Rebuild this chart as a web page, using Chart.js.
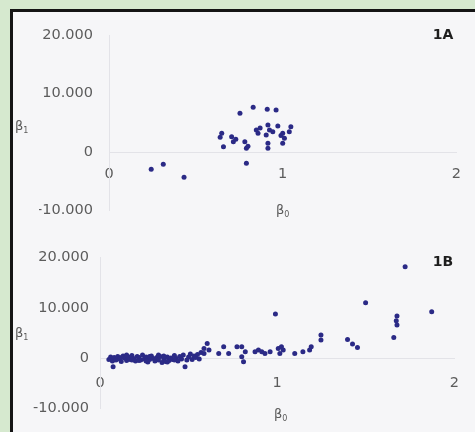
<!DOCTYPE html>
<html><head><meta charset="utf-8">
<script src="https://cdn.jsdelivr.net/npm/chart.js@4/dist/chart.umd.min.js"></script>
<style>
html,body{margin:0;padding:0;background:#d6e9cf;width:475px;height:432px;overflow:hidden}
#frame{position:absolute;left:10px;top:9px;width:470px;height:430px;border-left:3px solid #151515;border-top:3px solid #151515;background:#f6f6f8}
canvas{position:absolute;left:0}
#ca{top:0;width:475px;height:240px}
#cb{top:222px;width:475px;height:210px}
</style></head><body>
<div id="frame"></div>
<canvas id="ca" width="475" height="240"></canvas>
<canvas id="cb" width="475" height="210"></canvas>
<script>
// Panel 1A data (beta0, beta1)
const aBeta0 = [0.754,0.830,0.911,0.962,0.649,0.640,0.706,0.716,0.659,0.782,0.791,0.791,0.848,0.858,0.915,0.924,0.905,0.972,0.943,0.915,0.915,1.000,1.010,1.000,1.047,1.038,0.243,0.3125,0.432,0.870,0.990,0.730,0.800];
const aBeta1 = [6620,7640,7300,7180,3200,2510,2620,1760,910,1760,630,-1930,3760,3200,4620,3760,2910,4450,3470,1490,630,3200,2340,1490,4330,3470,-2960,-2100,-4330,4100,2800,2200,1000];
// Panel 1B data (beta0, beta1)
const bBeta0 = [0.05,0.06,0.07,0.074,0.08,0.09,0.10,0.11,0.12,0.13,0.14,0.15,0.16,0.17,0.18,0.19,0.20,0.21,0.22,0.23,0.24,0.25,0.26,0.27,0.28,0.29,0.30,0.31,0.32,0.33,0.34,0.35,0.36,0.37,0.38,0.39,0.40,0.41,0.42,0.43,0.44,0.45,0.46,0.47,0.48,0.49,0.50,0.51,0.52,0.53,0.54,0.55,0.56,0.57,
  0.12,0.18,0.22,0.28,0.33,0.38,0.42,0.36,0.15,0.26,
  0.587,0.587,0.605,0.615,0.67,0.698,0.726,0.773,0.80,0.82,0.80,0.81,0.875,0.894,0.913,0.931,0.96,0.99,1.006,1.024,1.034,1.015,1.099,1.145,1.183,1.192,1.247,1.247,1.397,1.425,1.453,1.499,1.658,1.672,1.676,1.676,1.722,1.872];
const bBeta1 = [-300,200,-600,-1730,100,-400,300,-200,-700,400,0,-500,200,-300,500,-100,-600,300,100,-400,600,-200,200,-800,-300,400,-100,-600,100,-400,300,-900,-200,-700,200,-500,0,-300,500,-100,-600,300,-200,600,-1730,-400,200,800,-300,400,100,700,-200,1100,
  100,-400,-500,300,600,-800,-400,400,600,-600,
  940,1930,2930,1590,940,2250,940,2250,2250,1250,260,-740,1250,1590,1250,940,1250,8760,1930,2250,1590,940,940,1250,1590,2250,4580,3590,3730,2790,2130,11020,4120,7430,8370,6570,18190,9220];
// Axis ticks
const xTickValues = [0,1,2];
const yTickValues = [-10000,0,10000,20000];
const panelTags = ['1A','1B'];

function fmt(v){
  const s = Math.abs(v).toString().replace(/\B(?=(\d{3})+(?!\d))/g,'.');
  return (v<0?'-':'')+s;
}
const FONT = 'DejaVu Sans';
const notes = {
  id:'notes',
  afterDraw(chart, args, o){
    const ctx = chart.ctx;
    ctx.save();
    ctx.fillStyle = '#1e1e1e';
    ctx.font = 'bold 14px "'+FONT+'"';
    ctx.textAlign='center'; ctx.textBaseline='middle';
    ctx.fillText(o.tag, o.tagX, o.tagY);
    ctx.fillStyle = '#5a5a5a';
    function beta(sub, x, y){
      ctx.textAlign='left'; ctx.textBaseline='middle';
      ctx.font = '13px "'+FONT+'"';
      ctx.fillText('β', x, y);
      const w = ctx.measureText('β').width;
      ctx.font = '8px "'+FONT+'"';
      ctx.fillText(sub, x + w, y + 4);
    }
    beta('1', o.b1X, o.b1Y);
    beta('0', o.b0X, o.b0Y);
    ctx.restore();
  }
};

function makeChart(id, xs, ys, cfg){
  const pts = xs.map((x,i)=>({x:x, y:ys[i]}));
  return new Chart(document.getElementById(id), {
    type:'scatter',
    data:{datasets:[{data:pts, pointRadius:2.5, pointHoverRadius:2.5, pointBackgroundColor:'#2b2a86', pointBorderWidth:0}]},
    options:{
      responsive:false, animation:false, events:[],
      layout:{padding:cfg.pad},
      plugins:{legend:{display:false}, tooltip:{enabled:false}, notes:cfg.notes},
      scales:{
        x:{type:'linear', min:0, max:2, position:{y:0},
          afterBuildTicks(s){ s.ticks = xTickValues.map(v=>({value:v})); },
          ticks:{padding:cfg.xPad, color:'#5c5c5c', font:{family:FONT, size:14.5}, callback:v=>String(v), maxRotation:0},
          grid:{display:false, drawTicks:false},
          border:{display:true, color:'#e3e3e8', width:1}},
        y:{type:'linear', min:-10000, max:20000,
          afterBuildTicks(s){ s.ticks = yTickValues.map(v=>({value:v})); },
          afterFit(s){ s.width = 70; },
          ticks:{padding:cfg.yPad, color:'#5c5c5c', font:{family:FONT, size:14.5}, callback:fmt},
          grid:{display:false, drawTicks:false},
          border:{display:true, color:'#e3e3e8', width:1}}
      }
    },
    plugins:[notes]
  });
}

makeChart('ca', aBeta0, aBeta1, {
  pad:{top:35, right:14, bottom:29.5, left:39}, xPad:14, yPad:16,
  notes:{tag:panelTags[0], tagX:443, tagY:35, b1X:15, b1Y:127, b0X:276, b0Y:211}
});
makeChart('cb', bBeta0, bBeta1, {
  pad:{top:35.7, right:17, bottom:23.7, left:30}, xPad:16, yPad:11,
  notes:{tag:panelTags[1], tagX:443, tagY:40, b1X:15, b1Y:112, b0X:274, b0Y:193}
});
</script>
</body></html>
